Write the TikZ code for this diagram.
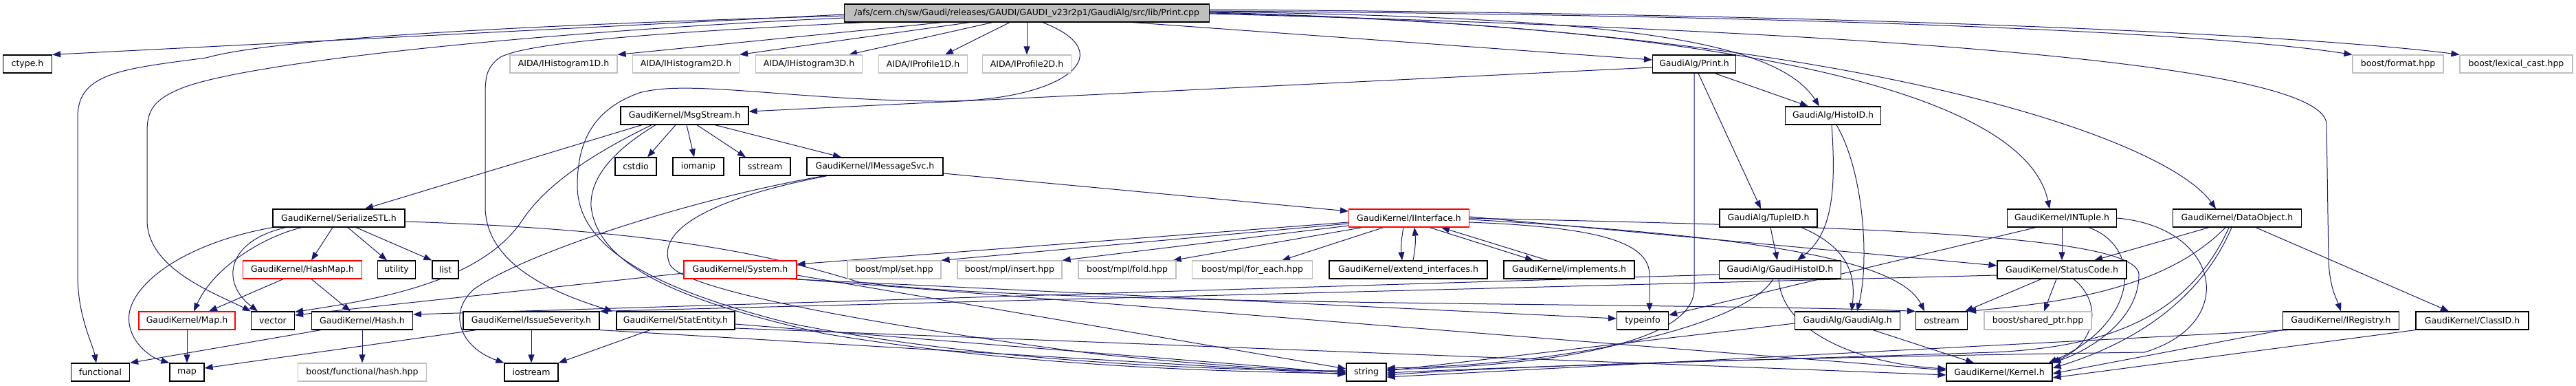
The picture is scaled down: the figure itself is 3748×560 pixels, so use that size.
\documentclass[tikz,border=0pt]{standalone}
\usepackage{fontspec}
\setmainfont{DejaVu Sans}
\usetikzlibrary{arrows.meta,backgrounds}
\definecolor{edgeblue}{HTML}{191970}
\definecolor{rootgray}{HTML}{BFBFBF}
\definecolor{extgray}{HTML}{BFBFBF}
\tikzset{
  hdr/.style={draw=black,line width=1.2pt,fill=white,minimum width=#1pt,minimum height=26pt,
    inner sep=0pt,font=\fontsize{12.5}{14}\selectfont},
  ext/.style={hdr=#1,draw=extgray},
  trunc/.style={hdr=#1,draw=red},
  dep/.style={draw=edgeblue,line width=1pt,-{Triangle[length=12pt,width=9pt]}},
}
\begin{document}
\begin{tikzpicture}[x=1pt,y=-1pt]
\useasboundingbox (0,0) rectangle (3748,560);
\node[hdr=531,fill=rootgray] at (1494,19) (root) {/afs/cern.ch/sw/Gaudi/releases/GAUDI/GAUDI\_v23r2p1/GaudiAlg/src/lib/Print.cpp};
%
\node[hdr=71] at (40,93) (ctype) {ctype.h};
\node[ext=156] at (820,93) (ih1) {AIDA/IHistogram1D.h};
\node[ext=155] at (998,93) (ih2) {AIDA/IHistogram2D.h};
\node[ext=155] at (1177,93) (ih3) {AIDA/IHistogram3D.h};
\node[ext=129] at (1343,93) (ip1) {AIDA/IProfile1D.h};
\node[ext=129] at (1494,93) (ip2) {AIDA/IProfile2D.h};
\node[hdr=121] at (2465,93) (print) {GaudiAlg/Print.h};
\node[ext=132] at (3489,93) (format) {boost/format.hpp};
\node[ext=164] at (3661,93) (lexcast) {boost/lexical\_cast.hpp};
%
\node[hdr=186] at (996,168) (msgstream) {GaudiKernel/MsgStream.h};
\node[hdr=139] at (2667,168) (histoid) {GaudiAlg/HistoID.h};
%
\node[hdr=60] at (925,242) (cstdio) {cstdio};
\node[hdr=74] at (1016,242) (iomanip) {iomanip};
\node[hdr=74] at (1113,242) (sstream) {sstream};
\node[hdr=198] at (1273,242) (imsgsvc) {GaudiKernel/IMessageSvc.h};
%
\node[hdr=192] at (493,317) (serial) {GaudiKernel/SerializeSTL.h};
\node[trunc=175] at (2050,317) (iinterface) {GaudiKernel/IInterface.h};
\node[hdr=142] at (2573,317) (tupleid) {GaudiAlg/TupleID.h};
\node[hdr=159] at (3000,317) (intuple) {GaudiKernel/INTuple.h};
\node[hdr=187] at (3255,317) (dataobj) {GaudiKernel/DataObject.h};
%
\node[trunc=173] at (440,392) (hashmap) {GaudiKernel/HashMap.h};
\node[hdr=55] at (577,392) (utility) {utility};
\node[hdr=38] at (648,392) (list) {list};
\node[trunc=164] at (1077,392) (system) {GaudiKernel/System.h};
\node[ext=136] at (1301,392) (mplset) {boost/mpl/set.hpp};
\node[ext=152] at (1469,392) (mplins) {boost/mpl/insert.hpp};
\node[ext=142] at (1640,392) (mplfold) {boost/mpl/fold.hpp};
\node[ext=175] at (1822,392) (mplfe) {boost/mpl/for\_each.hpp};
\node[hdr=230] at (2049,392) (extend) {GaudiKernel/extend\_interfaces.h};
\node[hdr=190] at (2283,392) (implements) {GaudiKernel/implements.h};
\node[hdr=177] at (2590,392) (ghistoid) {GaudiAlg/GaudiHistoID.h};
\node[hdr=188] at (3000,392) (statuscode) {GaudiKernel/StatusCode.h};
%
\node[trunc=140] at (272,466) (maph) {GaudiKernel/Map.h};
\node[hdr=63] at (397,466) (vector) {vector};
\node[hdr=147] at (527,466) (hash) {GaudiKernel/Hash.h};
\node[hdr=198] at (773,466) (issue) {GaudiKernel/IssueSeverity.h};
\node[hdr=172] at (983,466) (statentity) {GaudiKernel/StatEntity.h};
\node[hdr=75] at (2390,466) (typeinfo) {typeinfo};
\node[hdr=153] at (2688,466) (gaudialg) {GaudiAlg/GaudiAlg.h};
\node[hdr=75] at (2825,466) (ostream) {ostream};
\node[ext=156] at (2965,466) (sharedptr) {boost/shared\_ptr.hpp};
\node[hdr=169] at (3406,466) (iregistry) {GaudiKernel/IRegistry.h};
\node[hdr=164] at (3597,466) (classid) {GaudiKernel/ClassID.h};
%
\node[hdr=85] at (146,541) (functional) {functional};
\node[hdr=50] at (272,541) (map) {map};
\node[ext=187] at (527,541) (hashhpp) {boost/functional/hash.hpp};
\node[hdr=78] at (773,541) (iostream) {iostream};
\node[hdr=58] at (1988,541) (string) {string};
\node[hdr=154] at (2909,541) (kernel) {GaudiKernel/Kernel.h};
%
\begin{pgfonlayer}{background}
% Print.cpp
\draw[dep] ([yshift=-2pt]root.west) -- (ctype.north east);
\draw[dep] ([yshift=-4pt]root.west) .. controls (800,35) and (400,55) .. (300,84)
  .. controls (180,100) and (113,105) .. (113,170) -- (113,400)
  .. controls (113,460) and (135,500) .. ([xshift=-6pt]functional.north);
\draw[dep] ([yshift=-7pt]root.west) .. controls (800,45) and (350,90) .. (260,130)
  .. controls (225,145) and (214,160) .. (214,190) -- (214,320)
  .. controls (214,390) and (310,425) .. (vector.north west);
\draw[dep] ([xshift=-123pt]root.south) -- (ih1.north east);
\draw[dep] ([xshift=-83pt]root.south) -- (ih2.north east);
\draw[dep] ([xshift=-50pt]root.south) -- ([xshift=-20pt]ih3.north east);
\draw[dep] ([xshift=-25pt]root.south) -- ([xshift=32pt]ip1.north);
\draw[dep] (root.south) -- (ip2.north);
\draw[dep] ([xshift=30pt]root.south west) .. controls (1000,45) and (760,60) .. (725,85)
  .. controls (708,100) and (706,110) .. (706,140) -- (706,300)
  .. controls (706,390) and (820,430) .. ([xshift=-5pt]statentity.north west);
\draw[dep] ([xshift=23pt]root.south) .. controls (1640,80) and (1540,150) .. (1360,147)
  .. controls (1150,145) and (1000,115) .. (930,135)
  .. controls (860,160) and (840,210) .. (840,270)
  .. controls (840,360) and (950,420) .. (1150,470)
  .. controls (1450,530) and (1800,538) .. ([yshift=2pt]string.west);
\draw[dep] ([xshift=154pt]root.south) -- ([yshift=6pt]print.west);
\draw[dep] ([yshift=2pt]root.east) .. controls (2300,25) and (2580,50) .. ([xshift=-20pt]histoid.north);
\draw[dep] ([yshift=1pt]root.east) .. controls (2600,40) and (2950,150) .. ([xshift=-18pt]intuple.north);
\draw[dep] (root.east) .. controls (2700,40) and (3150,200) .. ([xshift=-31pt]dataobj.north);
\draw[dep] ([yshift=-1pt]root.east) .. controls (2700,45) and (3380,90) .. (3385,180) -- (3388,380)
  .. controls (3390,420) and (3400,435) .. (iregistry.north);
\draw[dep] ([yshift=3pt]root.east) .. controls (2600,22) and (3200,45) .. (format.north west);
\draw[dep] ([yshift=5pt]root.east) .. controls (2700,20) and (3350,50) .. (lexcast.north west);
% Print.h
\draw[dep] ([yshift=-5pt]print.west) -- ([yshift=6pt]msgstream.east);
\draw[dep] ([xshift=30pt]print.south) -- ([xshift=-36pt]histoid.north);
\draw[dep] ([xshift=6pt]print.south) -- ([xshift=-11pt]tupleid.north);
\draw[dep] (print.south) -- (2465,420) .. controls (2465,500) and (2250,532) .. ([yshift=4pt]string.east);
% MsgStream.h
\draw[dep] ([xshift=-13pt]msgstream.south) -- ([xshift=17pt]cstdio.north);
\draw[dep] ([xshift=3pt]msgstream.south) -- ([xshift=-6pt]iomanip.north);
\draw[dep] ([xshift=18pt]msgstream.south) -- ([xshift=-28pt]sstream.north);
\draw[dep] ([xshift=44pt]msgstream.south) -- ([xshift=-49pt]imsgsvc.north);
\draw[dep] ([xshift=-62pt]msgstream.south) -- ([xshift=38pt]serial.north);
\draw[dep] ([xshift=-48pt]msgstream.south) .. controls (880,215) and (800,260) .. (760,320)
  .. controls (700,410) and (550,435) .. ([yshift=-1pt]vector.north east);
\draw[dep] ([xshift=-42pt]msgstream.south) .. controls (890,220) and (858,260) .. (860,300)
  .. controls (870,390) and (1000,440) .. (1200,485)
  .. controls (1500,535) and (1800,540) .. ([yshift=-2pt]string.west);
% IMessageSvc.h
\draw[dep] ([yshift=-10pt]imsgsvc.east) -- ([yshift=10pt]iinterface.west);
\draw[dep] ([xshift=26pt]imsgsvc.south west) .. controls (1000,290) and (760,370) .. (690,420)
  .. controls (650,455) and (670,505) .. (iostream.north west);
\draw[dep] ([xshift=30pt]imsgsvc.south west) .. controls (1050,285) and (950,330) .. (975,385)
  .. controls (1000,430) and (1400,490) .. (1600,515)
  .. controls (1800,535) and (1900,538) .. (string.west);
% SerializeSTL.h
\draw[dep] ([xshift=-9pt]serial.south) -- ([xshift=13pt]hashmap.north);
\draw[dep] ([xshift=13pt]serial.south) -- ([xshift=-14pt]utility.north);
\draw[dep] ([xshift=25pt]serial.south) -- (list.north west);
\draw[dep] ([xshift=-54pt]serial.south) .. controls (380,345) and (310,390) .. ([xshift=10pt]maph.north);
\draw[dep] ([xshift=-77pt]serial.south) .. controls (330,350) and (320,410) .. ([xshift=-22pt]vector.north);
\draw[dep] (serial.south west) .. controls (260,355) and (180,420) .. (188,470)
  .. controls (192,500) and (220,520) .. (map.north west);
\draw[dep] ([yshift=-5pt]serial.east) .. controls (1000,335) and (1150,380) .. (1250,410)
  .. controls (1500,445) and (2500,440) .. (ostream.north west);
% HashMap.h, Map.h, Hash.h
\draw[dep] ([xshift=-28pt]hashmap.south) -- ([xshift=32pt]maph.north);
\draw[dep] ([xshift=13pt]hashmap.south) -- ([xshift=-17pt]hash.north);
\draw[dep] (maph) -- (map);
\draw[dep] ([xshift=-60pt]hash.south) -- (functional.north east);
\draw[dep] (hash) -- (hashhpp);
% IssueSeverity.h, StatEntity.h
\draw[dep] ([xshift=-80pt]issue.south) -- ([yshift=6pt]map.east);
\draw[dep] (issue) -- (iostream);
\draw[dep] (issue.south east) -- ([yshift=-3pt]string.west);
\draw[dep] ([xshift=-37pt]statentity.south) -- (iostream.north east);
\draw[dep] ([yshift=-5pt]statentity.east) -- ([yshift=-1pt]string.west);
\draw[dep] ([yshift=-11pt]statentity.east) -- ([yshift=-4pt]kernel.west);
% System.h
\draw[dep] ([yshift=-5pt]system.west) -- ([yshift=8pt]vector.east);
\draw[dep] ([xshift=-10pt]system.south east) -- ([yshift=3pt]typeinfo.west);
\draw[dep] ([yshift=-8pt]system.east) -- ([yshift=5pt]string.west);
\draw[dep] (system.south east) -- ([yshift=3pt]kernel.west);
% IInterface.h
\draw[dep] ([yshift=-6pt]iinterface.west) -- ([yshift=8pt]system.east);
\draw[dep] ([yshift=-8pt]iinterface.west) -- (mplset.north east);
\draw[dep] ([yshift=-11pt]iinterface.west) -- (mplins.north east);
\draw[dep] ([xshift=20pt]iinterface.south west) -- ([xshift=-5pt]mplfold.north east);
\draw[dep] ([xshift=51pt]iinterface.south west) -- ([xshift=-45pt]mplfe.north east);
\draw[dep] ([xshift=-8pt]iinterface.south) to[bend right=8] ([xshift=-9pt]extend.north);
\draw[dep] ([xshift=7pt]extend.north) to[bend right=8] ([xshift=8pt]iinterface.south);
\draw[dep] ([xshift=30pt]iinterface.south) -- ([xshift=-52pt]implements.north);
\draw[dep] ([xshift=-31pt]implements.north) -- ([xshift=47pt]iinterface.south);
\draw[dep] ([yshift=-6pt]iinterface.east) .. controls (2320,330) and (2400,350) .. (2400,400)
  -- ([xshift=10pt]typeinfo.north);
\draw[dep] ([yshift=2pt]iinterface.east) -- ([yshift=6pt]statuscode.west);
\draw[dep] ([yshift=-2pt]iinterface.east) .. controls (2500,340) and (2760,370) .. ([xshift=-25pt]ostream.north);
\draw[dep] (iinterface.east) .. controls (2700,330) and (3115,340) .. (3112,400)
  .. controls (3112,460) and (3050,505) .. (kernel.north east);
% StatusCode.h
\draw[dep] ([yshift=-8pt]statuscode.west) -- (issue.north east);
\draw[dep] ([xshift=-30pt]statuscode.south) -- ([xshift=-4pt]ostream.north east);
\draw[dep] ([xshift=-8pt]statuscode.south) -- ([xshift=9pt]sharedptr.north);
\draw[dep] ([xshift=17pt]statuscode.south) .. controls (3060,440) and (3050,500) .. ([xshift=-2pt]kernel.north east);
% INTuple.h
\draw[dep] (intuple) -- (statuscode);
\draw[dep] ([xshift=-38pt]intuple.south) -- ([yshift=8pt]typeinfo.east);
\draw[dep] ([xshift=39pt]intuple.south) .. controls (3120,360) and (3110,470) .. ([xshift=-6pt]kernel.north east);
\draw[dep] (intuple.east) .. controls (3230,330) and (3260,470) .. (3120,512)
  .. controls (2900,515) and (2300,525) .. ([yshift=-4pt]string.east);
% DataObject.h
\draw[dep] ([xshift=-41pt]dataobj.south) -- ([xshift=47pt]statuscode.north);
\draw[dep] ([xshift=-17pt]dataobj.south) .. controls (3150,420) and (3000,440) .. (ostream.north east);
\draw[dep] ([xshift=27pt]dataobj.south) -- ([xshift=-34pt]classid.north);
\draw[dep] ([xshift=-8pt]dataobj.south) .. controls (3200,440) and (3100,500) .. ([yshift=6pt]kernel.east);
\draw[dep] ([xshift=-12pt]dataobj.south) .. controls (3180,470) and (3050,505) .. (2900,512)
  .. controls (2500,525) and (2200,533) .. ([yshift=-1pt]string.east);
% IRegistry.h, ClassID.h
\draw[dep] (iregistry.south west) -- ([yshift=-2pt]kernel.east);
\draw[dep] ([xshift=8pt]iregistry.south west) -- ([yshift=-7pt]string.east);
\draw[dep] (classid.south west) -- ([yshift=-8pt]kernel.east);
% TupleID.h, HistoID.h
\draw[dep] ([xshift=3pt]tupleid.south) -- ([xshift=-4pt]ghistoid.north);
\draw[dep] ([xshift=48pt]tupleid.south) .. controls (2690,360) and (2700,400) .. ([xshift=6pt]gaudialg.north);
\draw[dep] ([xshift=-2pt]histoid.south) .. controls (2672,280) and (2665,340) .. ([xshift=25pt]ghistoid.north);
\draw[dep] ([xshift=5pt]histoid.south) .. controls (2712,250) and (2720,380) .. ([xshift=14pt]gaudialg.north);
% GaudiHistoID.h, GaudiAlg.h
\draw[dep] ([yshift=-7pt]ghistoid.west) -- ([yshift=9pt]hash.east);
\draw[dep] ([xshift=-10pt]ghistoid.south) .. controls (2540,470) and (2300,530) .. ([yshift=6pt]string.east);
\draw[dep] ([xshift=-2pt]ghistoid.south) .. controls (2592,480) and (2700,528) .. ([yshift=5pt]kernel.west);
\draw[dep] ([yshift=-4pt]gaudialg.west) -- ([yshift=2pt]string.east);
\draw[dep] ([xshift=37pt]gaudialg.south) -- ([xshift=-37pt]kernel.north);
\end{pgfonlayer}
\end{tikzpicture}
\end{document}
